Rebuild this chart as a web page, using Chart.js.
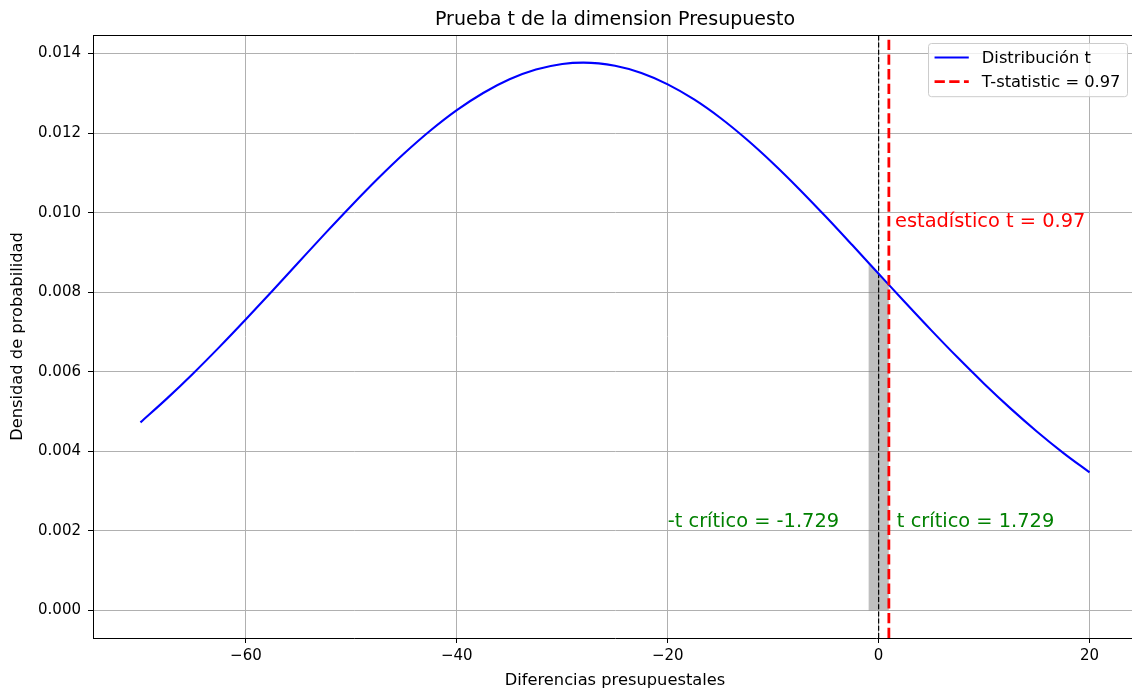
<!DOCTYPE html>
<html lang="es">
<head>
<meta charset="UTF-8">
<title>Prueba t de la dimension Presupuesto</title>
<script src="https://cdn.jsdelivr.net/npm/chart.js"></script>
<style>
  html, body { margin: 0; padding: 0; background: #fff; overflow: hidden; }
</style>
</head>
<body>
<canvas id="grafico" width="1140" height="693"></canvas>
<script>
// valores
const diferencias = [-70, -67.5, -65, -62.5, -60, -57.5, -55, -52.5, -50, -47.5, -45, -42.5, -40, -37.5,
                     -35, -32.5, -30, -28, -25, -22.5, -20, -17.5, -15, -12.5, -10, -7.5, -5, -2.5,
                     0, 2.5, 5, 7.5, 10, 12.5, 15, 17.5, 20];
const densidad = [0.004729, 0.005326, 0.005960, 0.006627, 0.007321, 0.008033, 0.008754, 0.009472, 0.010174,
                  0.010850, 0.011484, 0.012063, 0.012575, 0.013007, 0.013350, 0.013595, 0.013735, 0.013770,
                  0.013692, 0.013509, 0.013224, 0.012845, 0.012379, 0.011838, 0.011236, 0.010584, 0.009896,
                  0.009185, 0.008465, 0.007747, 0.007041, 0.006357, 0.005702, 0.005082, 0.004502, 0.003965,
                  0.003472];
const sombraX = [-0.97, 0, 0.97];
const sombraY = [0.00873, 0.008465, 0.00820];
const tStat = 0.97;
const tCritico = 1.729;
const xTicks = [-60, -40, -20, 0, 20];
const yTicks = [0, 0.002, 0.004, 0.006, 0.008, 0.010, 0.012, 0.014];
const xLim = [-74.5, 24.5];
const yLim = [-0.000689, 0.014464];

const fuente = "'DejaVu Sans', sans-serif";

const decoraciones = {
  id: 'decoraciones',
  afterDraw(chart) {
    const ctx = chart.ctx;
    const area = chart.chartArea;
    const x = chart.scales.x, y = chart.scales.y;
    ctx.save();

    // marco superior
    ctx.strokeStyle = 'black';
    ctx.lineWidth = 1;
    ctx.beginPath();
    ctx.moveTo(area.left, area.top + 0.5);
    ctx.lineTo(area.right, area.top + 0.5);
    ctx.stroke();

    // titulo
    ctx.fillStyle = 'black';
    ctx.font = '19px ' + fuente;
    ctx.textAlign = 'center';
    ctx.textBaseline = 'alphabetic';
    ctx.fillText('Prueba t de la dimension Presupuesto', (area.left + area.right) / 2, 25);

    // anotaciones
    ctx.font = '19.4px ' + fuente;
    ctx.textAlign = 'left';
    ctx.fillStyle = 'red';
    ctx.fillText(' estadístico t = ' + tStat, x.getPixelForValue(tStat), y.getPixelForValue(0.00964));
    ctx.fillStyle = 'green';
    ctx.fillText('t crítico = ' + tCritico, x.getPixelForValue(tCritico), y.getPixelForValue(0.0021));
    ctx.fillText('-t crítico = -' + tCritico, x.getPixelForValue(-20), y.getPixelForValue(0.0021));

    // leyenda
    const fs = 16.3;
    ctx.font = fs + 'px ' + fuente;
    const items = chart.data.datasets.filter(d => d.enLeyenda);
    const anchoTexto = Math.max(...items.map(d => ctx.measureText(d.label).width));
    const pad = 0.4 * fs, handle = 2.1 * fs, textPad = 0.8 * fs, fila = 16, esp = 0.5 * fs;
    const w = pad * 2 + handle + textPad + anchoTexto;
    const h = pad * 2 + fila * items.length + esp * (items.length - 1);
    const bx = area.right - 10 - w, by = area.top + 8;
    ctx.fillStyle = 'rgba(255,255,255,0.8)';
    ctx.strokeStyle = '#cccccc';
    ctx.lineWidth = 1;
    ctx.beginPath();
    ctx.roundRect(bx + 0.5, by + 0.5, w, h, 3);
    ctx.fill();
    ctx.stroke();
    items.forEach((d, i) => {
      const cy = by + pad + fila / 2 + i * (fila + esp);
      ctx.strokeStyle = d.borderColor;
      ctx.lineWidth = d.borderWidth;
      ctx.setLineDash(d.borderDash || []);
      ctx.beginPath();
      ctx.moveTo(bx + pad, cy);
      ctx.lineTo(bx + pad + handle, cy);
      ctx.stroke();
      ctx.setLineDash([]);
      ctx.fillStyle = 'black';
      ctx.textBaseline = 'middle';
      ctx.fillText(d.label, bx + pad + handle + textPad, cy + 1);
    });
    ctx.restore();
  }
};

new Chart(document.getElementById('grafico'), {
  type: 'line',
  data: {
    datasets: [
      {
        label: 'Distribución t',
        enLeyenda: true,
        data: diferencias.map((v, i) => ({ x: v, y: densidad[i] })),
        borderColor: 'blue',
        borderWidth: 2.1,
        pointRadius: 0,
        cubicInterpolationMode: 'monotone',
        fill: false,
        order: 2
      },
      {
        label: 'sombra',
        data: sombraX.map((v, i) => ({ x: v, y: sombraY[i] })),
        borderWidth: 0,
        pointRadius: 0,
        backgroundColor: 'rgba(128,128,128,0.5)',
        fill: 'origin',
        order: 4
      },
      {
        label: 'cero',
        data: [{ x: 0, y: yLim[0] }, { x: 0, y: yLim[1] }],
        borderColor: 'black',
        borderWidth: 1.2,
        borderDash: [5, 2.2],
        pointRadius: 0,
        fill: false,
        order: 3
      },
      {
        label: 'T-statistic = ' + tStat,
        enLeyenda: true,
        data: [{ x: tStat, y: yLim[0] }, { x: tStat, y: yLim[1] }],
        borderColor: 'red',
        borderWidth: 2.8,
        borderDash: [10.3, 4.4],
        pointRadius: 0,
        fill: false,
        order: 1
      }
    ]
  },
  options: {
    responsive: false,
    animation: false,
    devicePixelRatio: 1,
    layout: { padding: { top: 35, right: 3, left: 0, bottom: 0 } },
    plugins: {
      legend: { display: false },
      title: { display: false },
      tooltip: { enabled: false },
      filler: { drawTime: 'beforeDatasetsDraw' }
    },
    scales: {
      x: {
        type: 'linear',
        min: xLim[0],
        max: xLim[1],
        afterBuildTicks: s => { s.ticks = xTicks.map(v => ({ value: v })); },
        afterFit: s => { s.height = 55; },
        ticks: {
          color: 'black',
          padding: 4,
          maxRotation: 0,
          font: { family: fuente, size: 15 },
          callback: v => String(v).replace('-', '\u2212')
        },
        grid: { color: '#b0b0b0', lineWidth: 1, tickColor: 'black', tickLength: 5 },
        border: { color: 'black', width: 1 },
        title: {
          display: true,
          text: 'Diferencias presupuestales',
          color: 'black',
          font: { family: fuente, size: 16.3 },
          padding: { top: 0, bottom: 2 }
        }
      },
      y: {
        type: 'linear',
        min: yLim[0],
        max: yLim[1],
        afterBuildTicks: s => { s.ticks = yTicks.map(v => ({ value: v })); },
        afterFit: s => { s.width = 93; },
        ticks: {
          color: 'black',
          padding: 7,
          font: { family: fuente, size: 15 },
          callback: v => v.toFixed(3)
        },
        grid: { color: '#b0b0b0', lineWidth: 1, tickColor: 'black', tickLength: 5 },
        border: { color: 'black', width: 1 },
        title: {
          display: true,
          text: 'Densidad de probabilidad',
          color: 'black',
          font: { family: fuente, size: 16.3 },
          padding: { top: 8, bottom: 0 }
        }
      }
    }
  },
  plugins: [decoraciones]
});
</script>
</body>
</html>
